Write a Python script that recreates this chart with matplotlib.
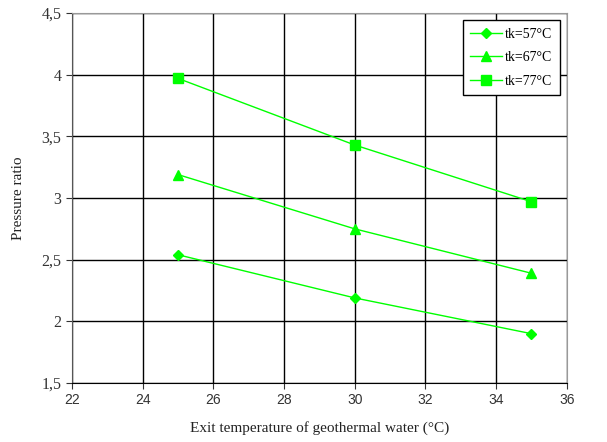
import matplotlib
matplotlib.use("Agg")
import matplotlib.pyplot as plt
from matplotlib.ticker import FuncFormatter

x_temp = [25, 30, 35]
ratio_57 = [2.54, 2.19, 1.90]
ratio_67 = [3.19, 2.75, 2.39]
ratio_77 = [3.97, 3.43, 2.97]
labels = ["tk=57°C", "tk=67°C", "tk=77°C"]

fig = plt.figure(figsize=(6.07, 4.42), dpi=100)
ax = fig.add_axes([0.1186, 0.1335, 0.815, 0.837])

green = "#00ff00"
ax.plot(x_temp, ratio_57, color=green, lw=1, marker="D", ms=5, label=labels[0])
ax.plot(x_temp, ratio_67, color=green, lw=1, marker="^", ms=7, label=labels[1])
ax.plot(x_temp, ratio_77, color=green, lw=1, marker="s", ms=6.5, label=labels[2])

ax.set_xlim(22, 36)
ax.set_ylim(1.5, 4.5)
ax.set_xticks(range(22, 37, 2))
ax.set_yticks([1.5, 2, 2.5, 3, 3.5, 4, 4.5])
ax.yaxis.set_major_formatter(FuncFormatter(lambda v, p: f"{v:g}".replace(".", ",")))
ax.grid(True, color="black", lw=1)
ax.set_axisbelow(True)

for s in ["top", "right"]:
    ax.spines[s].set_color("#999999")
ax.spines["left"].set_color("#555555")
ax.spines["bottom"].set_color("black")
ax.tick_params(direction="out", length=4, colors="#333333")
for t in ax.get_xticklabels():
    t.set_family("Liberation Sans")
    t.set_fontsize(10)
for t in ax.get_yticklabels():
    t.set_family("Liberation Serif")
    t.set_fontsize(11.5)

ax.set_xlabel("Exit temperature of geothermal water (°C)", family="Liberation Serif",
              fontsize=11, color="#222222", labelpad=10)
ax.set_ylabel("Pressure ratio", family="Liberation Serif", fontsize=11, color="#222222",
              labelpad=12)

leg = ax.legend(loc="upper right", bbox_to_anchor=(0.986, 0.981), borderaxespad=0,
                fancybox=False, framealpha=1, edgecolor="black",
                prop={"family": "Liberation Serif", "size": 10},
                handlelength=2.3, labelspacing=0.75, borderpad=0.55, handletextpad=0.2)
leg.get_frame().set_linewidth(1)

fig.savefig("out.png", dpi=100)
